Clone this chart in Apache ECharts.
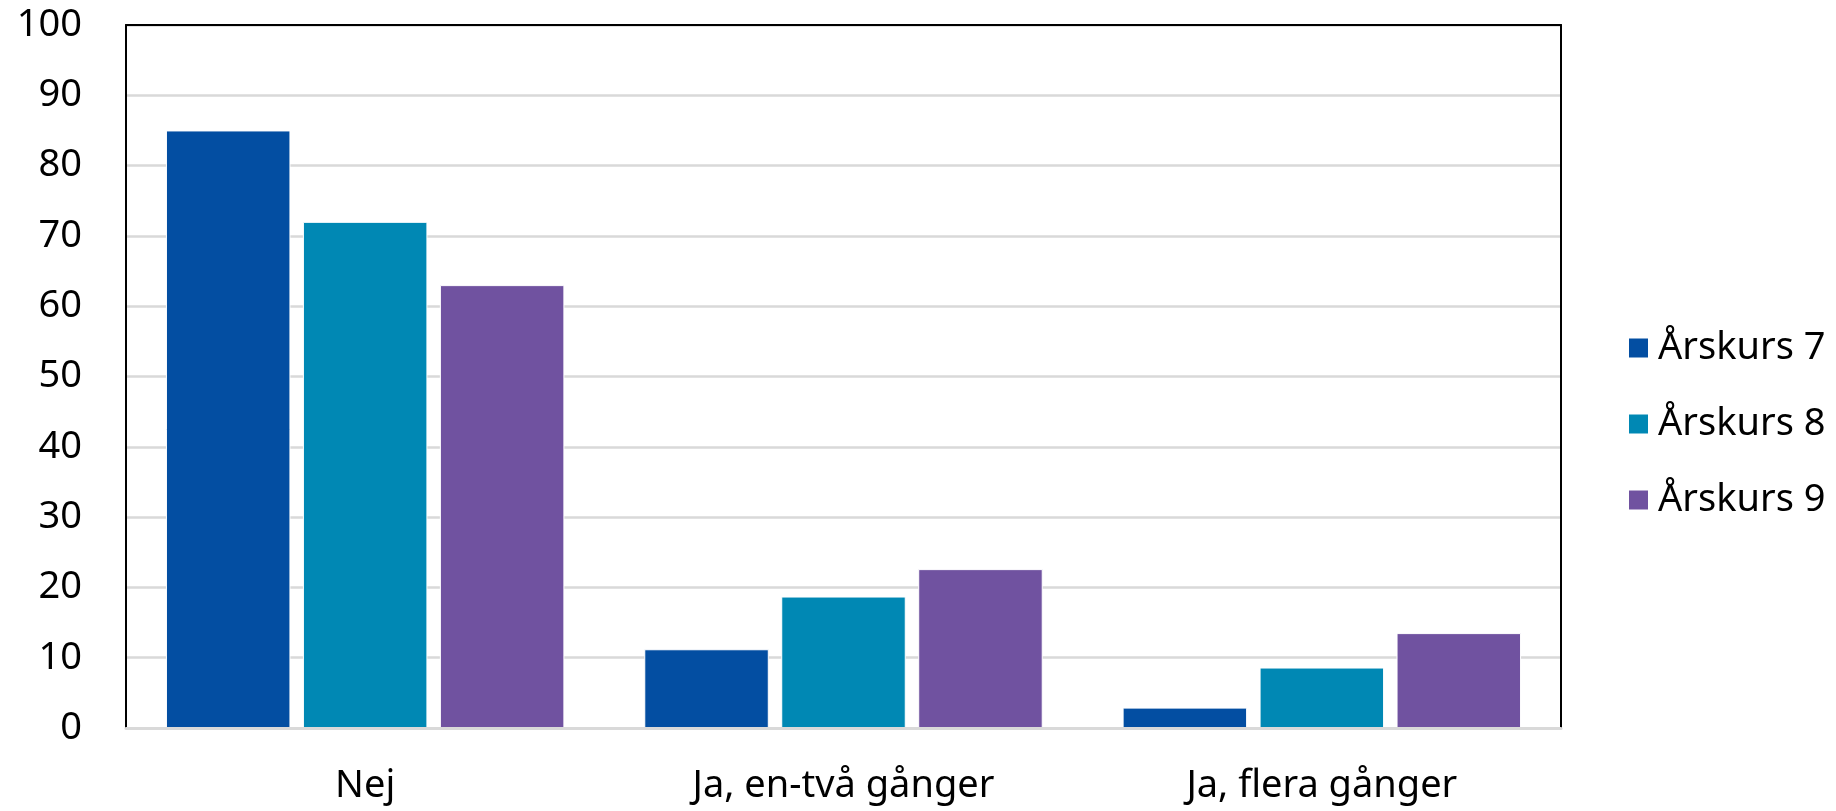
<!DOCTYPE html>
<html>
<head>
<meta charset="utf-8">
<script src="https://cdn.jsdelivr.net/npm/echarts@6/dist/echarts.min.js"></script>
<style>
  html, body { margin: 0; padding: 0; background: #fff; }
  #chart { width: 1836px; height: 811px; }
</style>
</head>
<body>
<div id="chart"></div>
<script>
// kategorier och värden (procent)
const categories = ["Nej", "Ja, en-två gånger", "Ja, flera gånger"];
const seriesNames = ["Årskurs 7", "Årskurs 8", "Årskurs 9"];
const ak7 = [85, 11.2, 2.9];
const ak8 = [72, 18.7, 8.6];
const ak9 = [63, 22.6, 13.5];
const colors = ["#034ea2", "#0088b4", "#7052a0"];

const fontFamily = "'Noto Sans', sans-serif";
const valueArr = [ak7, ak8, ak9];

const myChart = echarts.init(document.getElementById("chart"));

const seriesArr = valueArr.map((data, index) => {
  return {
    name: seriesNames[index],
    type: "bar",
    data: data,
    barCategoryGap: "16.7%",
    barGap: "10%",
    itemStyle: {
      color: colors[index],
      borderColor: "#fff",
      borderWidth: 1,
    },
  };
});

myChart.setOption({
  animation: false,
  color: colors,
  grid: {
    left: 126,
    right: 275,
    top: 25,
    bottom: 83,
  },
  legend: {
    orient: "vertical",
    left: 1622,
    top: 323,
    icon: "rect",
    itemWidth: 21,
    itemHeight: 21,
    itemGap: 36,
    textStyle: {
      fontFamily: fontFamily,
      fontSize: 38,
      lineHeight: 40,
      color: "#000",
      padding: [0, 0, 0, 4],
    },
    data: seriesNames,
  },
  xAxis: [
    {
      type: "category",
      data: categories,
      axisTick: { show: false },
      axisLine: { onZero: false, lineStyle: { color: "#d9d9d9", width: 3 } },
      axisLabel: {
        fontFamily: fontFamily,
        fontSize: 38,
        color: "#000",
        margin: 39,
      },
      z: 3,
    },
    {
      type: "category",
      position: "top",
      data: categories,
      axisTick: { show: false },
      axisLabel: { show: false },
      axisLine: { onZero: false, lineStyle: { color: "#000", width: 2 } },
    },
  ],
  yAxis: [
    {
      type: "value",
      min: 0,
      max: 100,
      interval: 10,
      axisLine: { show: true, lineStyle: { color: "#000", width: 2 } },
      axisTick: { show: false },
      splitLine: { lineStyle: { color: "#d9d9d9", width: 2.5 } },
      axisLabel: {
        fontFamily: fontFamily,
        fontSize: 38,
        color: "#000",
        margin: 44,
      },
    },
    {
      type: "value",
      position: "right",
      min: 0,
      max: 100,
      interval: 10,
      axisLine: { show: true, lineStyle: { color: "#000", width: 2 } },
      axisTick: { show: false },
      axisLabel: { show: false },
      splitLine: { show: false },
    },
  ],
  series: seriesArr,
});
</script>
</body>
</html>
